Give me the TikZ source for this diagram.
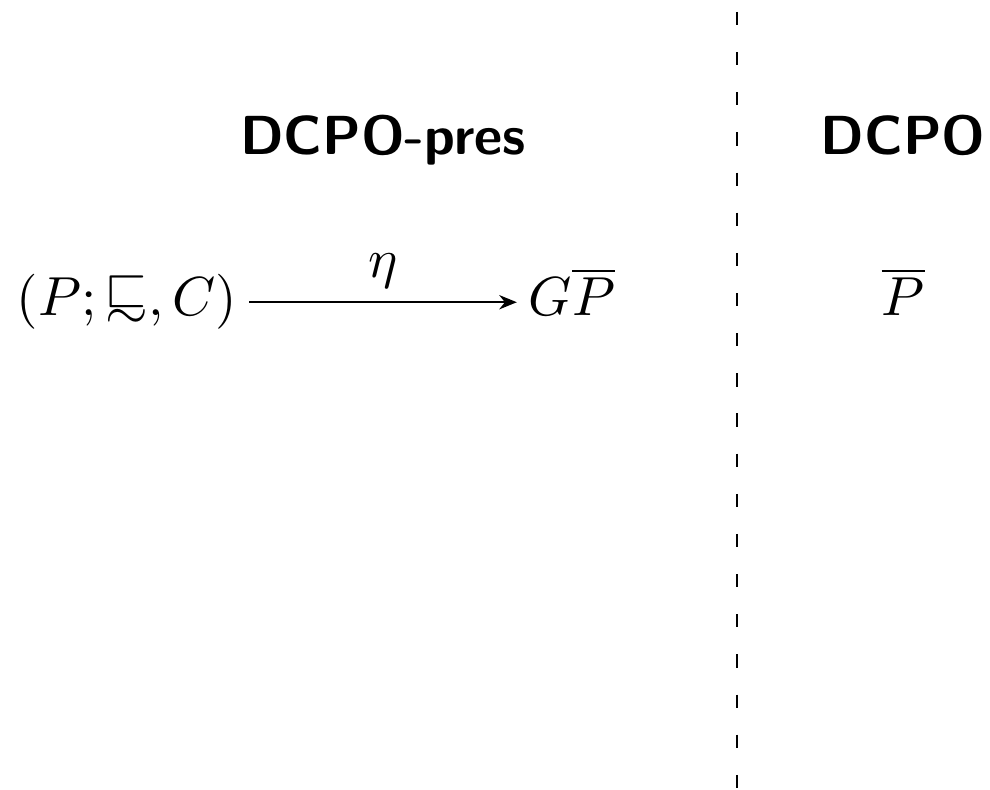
\documentclass[tikz,border=0pt]{standalone}
\usepackage{amssymb}
\usetikzlibrary{arrows.meta}
% square "less than" with a tilde underneath
\newcommand{\sqsim}{\mathrel{\vcenter{\offinterlineskip\halign{\hfil$##$\hfil\cr\sqsubset\cr\noalign{\kern0.3pt}\sim\cr}}}}
\begin{document}
\begin{tikzpicture}[x=0.18182pt,y=-0.18182pt,
  heading/.style={font=\sffamily\bfseries, inner sep=0pt, anchor=base},
  obj/.style={inner sep=2pt, anchor=base},
  morph/.style={line width=0.4pt, -{Stealth[length=3.2pt,width=2.6pt]}},
  divider/.style={line width=0.45pt, dash pattern=on 2.4pt off 4.9pt}]
  \useasboundingbox (0,0) rectangle (990,790);
  % category headings
  \node[heading] (hpres) at (383,155) {DCPO-pres};
  \node[heading] (hdcpo) at (903,155) {DCPO};
  % separator between the two categories
  \coordinate (sepTop) at (737,12);
  \coordinate (sepBot) at (737,790);
  \draw[divider] (sepTop) -- (sepBot);
  % objects
  \node[obj] (pres) at (127,316) {$(P;\sqsim,C)$};
  \node[obj] (gp) at (572,316) {$G\overline{P}$};
  \node[obj] (pbar) at (903,316) {$\overline{P}$};
  % unit of the adjunction
  \draw[morph] (pres.east) -- (pres.east -| gp.west)
    node[midway, above, inner sep=2.4pt] (eta) {$\eta$};
\end{tikzpicture}
\end{document}
